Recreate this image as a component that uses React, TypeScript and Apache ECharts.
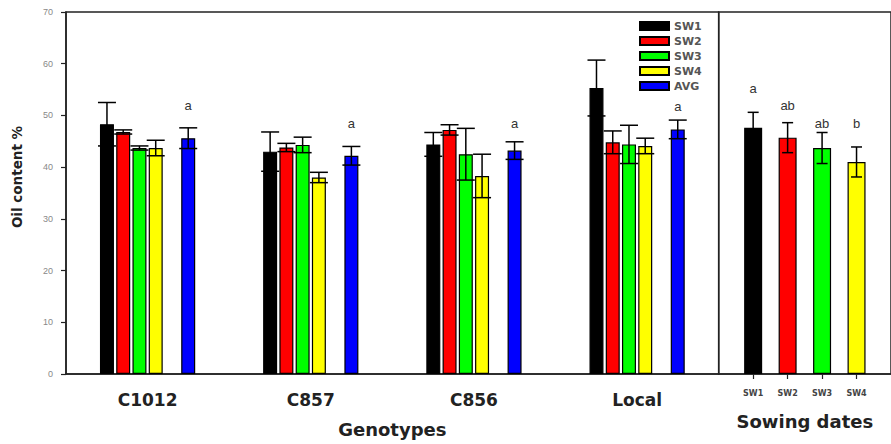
import React, { useEffect, useRef } from 'react';
import * as echarts from 'echarts';

// ---------- data ----------
const genotypes = ['C1012', 'C857', 'C856', 'Local'];
const seriesNames = ['SW1', 'SW2', 'SW3', 'SW4', 'AVG'];
const seriesColors = ['#000000', '#ff0000', '#00ff00', '#ffff00', '#0000ff'];

const sw1Mean = [48.3, 43.0, 44.4, 55.3];
const sw1Err = [4.2, 3.8, 2.3, 5.4];
const sw2Mean = [46.8, 43.8, 47.2, 44.8];
const sw2Err = [0.4, 0.8, 1.0, 2.2];
const sw3Mean = [43.7, 44.3, 42.5, 44.4];
const sw3Err = [0.4, 1.5, 5.0, 3.7];
const sw4Mean = [43.7, 38.0, 38.3, 44.1];
const sw4Err = [1.5, 1.0, 4.2, 1.5];
const avgMean = [45.6, 42.2, 43.2, 47.3];
const avgErr = [2.0, 1.8, 1.7, 1.8];
const avgLetters = ['a', 'a', 'a', 'a'];
const avgLetterLevel = [51.9, 48.5, 48.5, 51.7];

const sowingDates = ['SW1', 'SW2', 'SW3', 'SW4'];
const sowingMean = [47.6, 45.7, 43.7, 41.0];
const sowingErr = [3.0, 2.9, 3.0, 2.9];
const sowingLetters = ['a', 'ab', 'ab', 'b'];
const sowingLetterLevel = [55.2, 51.9, 48.5, 48.5];

const yMin = 0;
const yMax = 70;
const yInterval = 10;

// ---------- layout constants ----------
const BAR_W = 14;
const GAP_PX = 2.25;
const SLOT_PX = BAR_W + GAP_PX;
const N_SLOTS = 6; // SW1..SW4, empty slot, AVG
const LEFT_CAP = 9;
const RIGHT_BAR_W = 18;
const RIGHT_CAP = 5.5;

const genoMeans = [sw1Mean, sw2Mean, sw3Mean, sw4Mean, avgMean];
const genoErrs = [sw1Err, sw2Err, sw3Err, sw4Err, avgErr];
const slotOf = [0, 1, 2, 3, 5];

function errBar(x: number, yTop: number, yBot: number, hw: number) {
  const st = { stroke: '#000', lineWidth: 1.5 };
  return {
    type: 'group',
    children: [
      { type: 'line', shape: { x1: x, y1: yTop, x2: x, y2: yBot }, style: st },
      { type: 'line', shape: { x1: x - hw, y1: yTop, x2: x + hw, y2: yTop }, style: st },
      { type: 'line', shape: { x1: x - hw, y1: yBot, x2: x + hw, y2: yBot }, style: st },
    ],
  };
}

export default function App() {
  const ref = useRef<HTMLDivElement>(null);

  useEffect(() => {
    if (!ref.current) return;
    const chart = echarts.init(ref.current, undefined, { renderer: 'svg' });

    const gapPct = (GAP_PX / BAR_W) * 100 + '%';
    const barSeries: any[] = [];
    for (let s = 0; s < 4; s++) {
      barSeries.push({
        type: 'bar',
        name: seriesNames[s],
        xAxisIndex: 0,
        yAxisIndex: 0,
        data: genoMeans[s],
        barWidth: BAR_W,
        barGap: gapPct,
        itemStyle: { color: seriesColors[s], borderColor: '#000', borderWidth: 1.2 },
        z: 2,
      });
    }
    barSeries.push({
      type: 'bar',
      name: '_gap',
      xAxisIndex: 0,
      yAxisIndex: 0,
      data: genotypes.map(() => null),
      barWidth: BAR_W,
      barGap: gapPct,
      z: 2,
    });
    barSeries.push({
      type: 'bar',
      name: seriesNames[4],
      xAxisIndex: 0,
      yAxisIndex: 0,
      data: genoMeans[4],
      barWidth: BAR_W,
      barGap: gapPct,
      itemStyle: { color: seriesColors[4], borderColor: '#000', borderWidth: 1.2 },
      z: 2,
    });

    const errData: number[][] = [];
    for (let s = 0; s < 5; s++) {
      for (let i = 0; i < genotypes.length; i++) {
        errData.push([i, genoMeans[s][i], genoErrs[s][i], slotOf[s]]);
      }
    }

    const rightCats = ['', ...sowingDates, ''];
    const showCat = (_idx: number, val: string) => val !== '';

    const option: any = {
      animation: false,
      backgroundColor: '#ffffff',
      grid: [
        { left: 66, top: 12, right: 172.3, bottom: 70, show: true, borderColor: '#222', borderWidth: 1.5, containLabel: false },
        { left: 718.7, top: 12, right: -2, bottom: 70, show: true, borderColor: '#222', borderWidth: 1.5, containLabel: false },
      ],
      legend: {
        data: seriesNames.map((n) => ({ name: n })),
        orient: 'vertical',
        left: 639,
        top: 20.5,
        padding: 0,
        itemWidth: 29,
        itemHeight: 8,
        itemGap: 4,
        icon: 'rect',
        textStyle: { fontSize: 11, fontWeight: 'bold', fontFamily: 'DejaVu Sans', color: '#555' },
        selectedMode: false,
      },
      xAxis: [
        {
          type: 'category',
          gridIndex: 0,
          data: genotypes,
          axisLine: { lineStyle: { color: '#222', width: 1.5 } },
          axisTick: { alignWithLabel: true, length: 5, lineStyle: { color: '#222', width: 1.2 } },
          axisLabel: { fontSize: 17, fontWeight: 'bold', fontFamily: 'DejaVu Sans', color: '#222', margin: 17 },
          name: 'Genotypes',
          nameLocation: 'middle',
          nameGap: 46.5,
          nameTextStyle: { fontSize: 18, fontWeight: 'bold', fontFamily: 'DejaVu Sans', color: '#222' },
        },
        {
          type: 'category',
          gridIndex: 1,
          data: rightCats,
          boundaryGap: false,
          axisLine: { lineStyle: { color: '#222', width: 1.5 } },
          axisTick: { interval: showCat, length: 5, lineStyle: { color: '#222', width: 1.2 } },
          axisLabel: { interval: showCat, fontSize: 8, fontWeight: 'bold', fontFamily: 'DejaVu Sans', color: '#444', margin: 15.5 },
          name: 'Sowing dates',
          nameLocation: 'middle',
          nameGap: 38.5,
          nameTextStyle: { fontSize: 18, fontWeight: 'bold', fontFamily: 'DejaVu Sans', color: '#222' },
        },
      ],
      yAxis: [
        {
          type: 'value',
          gridIndex: 0,
          min: yMin,
          max: yMax,
          interval: yInterval,
          splitLine: { show: false },
          axisLine: { show: true, lineStyle: { color: '#222', width: 1.5 } },
          axisTick: { show: true, length: 5, lineStyle: { color: '#222', width: 1.2 } },
          axisLabel: { fontSize: 9, fontFamily: 'Liberation Sans', color: '#888', margin: 13 },
        },
        {
          type: 'value',
          gridIndex: 1,
          min: yMin,
          max: yMax,
          interval: yInterval,
          splitLine: { show: false },
          axisLine: { show: false },
          axisTick: { show: false },
          axisLabel: { show: false },
        },
      ],
      graphic: [
        {
          type: 'text',
          x: 17,
          y: 177,
          rotation: Math.PI / 2,
          style: {
            text: 'Oil content %',
            fontSize: 13.5,
            fontWeight: 'bold',
            fontFamily: 'DejaVu Sans',
            fill: '#222',
            align: 'center',
            verticalAlign: 'middle',
          },
        },
      ],
      series: [
        ...barSeries,
        {
          type: 'custom',
          name: 'errL',
          xAxisIndex: 0,
          yAxisIndex: 0,
          z: 5,
          encode: { x: 0, y: 1 },
          data: errData,
          renderItem: (_p: any, api: any) => {
            const cat = api.value(0);
            const m = api.value(1);
            const e = api.value(2);
            const slot = api.value(3);
            const off = (slot - (N_SLOTS - 1) / 2) * SLOT_PX;
            const top = api.coord([cat, m + e]);
            const bot = api.coord([cat, m - e]);
            return errBar(top[0] + off, top[1], bot[1], LEFT_CAP);
          },
        },
        {
          type: 'custom',
          name: 'lettersL',
          xAxisIndex: 0,
          yAxisIndex: 0,
          z: 5,
          encode: { x: 0, y: 1 },
          data: avgLetterLevel.map((v, i) => [i, v]),
          renderItem: (p: any, api: any) => {
            const pt = api.coord([api.value(0), api.value(1)]);
            const off = (5 - (N_SLOTS - 1) / 2) * SLOT_PX;
            return {
              type: 'text',
              x: pt[0] + off,
              y: pt[1],
              style: {
                text: avgLetters[p.dataIndex],
                fontSize: 13,
                fontFamily: 'Liberation Sans',
                fill: '#333',
                align: 'center',
                verticalAlign: 'middle',
              },
            };
          },
        },
        {
          type: 'bar',
          name: 'sowing',
          xAxisIndex: 1,
          yAxisIndex: 1,
          barWidth: RIGHT_BAR_W,
          data: [
            null,
            ...sowingMean.map((v, i) => ({
              value: v,
              itemStyle: { color: seriesColors[i], borderColor: '#000', borderWidth: 1.2 },
            })),
            null,
          ],
          z: 2,
        },
        {
          type: 'custom',
          name: 'errR',
          xAxisIndex: 1,
          yAxisIndex: 1,
          z: 5,
          encode: { x: 0, y: 1 },
          data: sowingMean.map((v, i) => [i + 1, v, sowingErr[i]]),
          renderItem: (_p: any, api: any) => {
            const cat = api.value(0);
            const m = api.value(1);
            const e = api.value(2);
            const top = api.coord([cat, m + e]);
            const bot = api.coord([cat, m - e]);
            return errBar(top[0], top[1], bot[1], RIGHT_CAP);
          },
        },
        {
          type: 'custom',
          name: 'lettersR',
          xAxisIndex: 1,
          yAxisIndex: 1,
          z: 5,
          encode: { x: 0, y: 1 },
          data: sowingLetterLevel.map((v, i) => [i + 1, v]),
          renderItem: (p: any, api: any) => {
            const pt = api.coord([api.value(0), api.value(1)]);
            return {
              type: 'text',
              x: pt[0],
              y: pt[1],
              style: {
                text: sowingLetters[p.dataIndex],
                fontSize: 13,
                fontFamily: 'Liberation Sans',
                fill: '#333',
                align: 'center',
                verticalAlign: 'middle',
              },
            };
          },
        },
      ],
    };

    chart.setOption(option);
    return () => {
      chart.dispose();
    };
  }, []);

  return (
    <div
      ref={ref}
      style={{ position: 'absolute', left: 0, top: 0, width: 891, height: 444, background: '#fff' }}
    />
  );
}
